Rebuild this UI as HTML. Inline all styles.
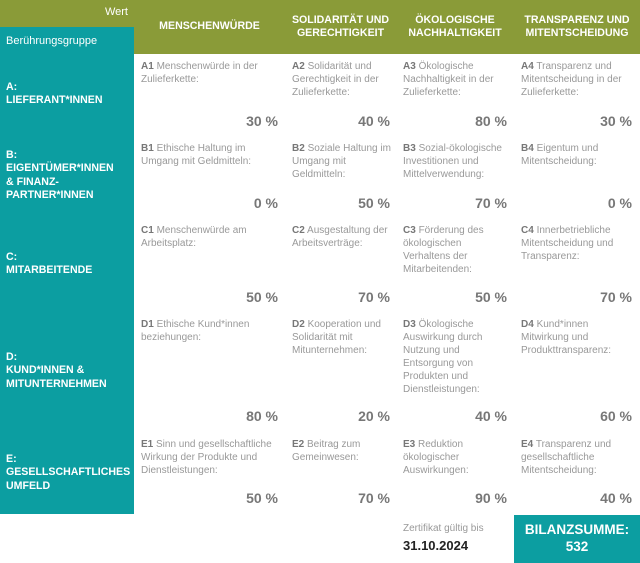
<!DOCTYPE html>
<html><head><meta charset="utf-8"><style>
body{margin:0;width:640px;height:563px;position:relative;background:#fff;font-family:"Liberation Sans",sans-serif;overflow:hidden}
.a{position:absolute}
.hd{background:#8a9b38}
.tl{background:#0c9ea1}
.h{position:absolute;color:#fff;font-weight:bold;font-size:10.6px;line-height:13px;text-align:center}
.l{position:absolute;left:6px;color:#fff;font-weight:bold;font-size:10.6px;line-height:13.3px;white-space:nowrap}
.t{position:absolute;color:#999;font-size:10px;line-height:13px}
.t b{color:#777}
.p{position:absolute;color:#777;font-weight:bold;font-size:14px;line-height:16px;text-align:right;width:80px}
</style></head><body>
<div class="a hd" style="left:0;top:0;width:640px;height:54px"></div>
<div class="a tl" style="left:0;top:27px;width:134px;height:487px"></div>
<div class="a" style="left:0;top:6px;width:128px;text-align:right;color:#fff;font-size:11px">Wert</div>
<div class="a" style="left:6px;top:35px;color:#fff;font-size:11px">Berührungsgruppe</div>
<div class="h" style="left:134px;width:151px;top:20px">MENSCHENWÜRDE</div>
<div class="h" style="left:285px;width:111px;top:14px">SOLIDARITÄT UND GERECHTIGKEIT</div>
<div class="h" style="left:396px;width:118px;top:14px">ÖKOLOGISCHE NACHHALTIGKEIT</div>
<div class="h" style="left:514px;width:126px;top:14px">TRANSPARENZ UND MITENTSCHEIDUNG</div>

<div class="l" style="top:81px">A:<br>LIEFERANT*INNEN</div>
<div class="l" style="top:149px">B:<br>EIGENTÜMER*INNEN<br>&amp; FINANZ-<br>PARTNER*INNEN</div>
<div class="l" style="top:251px">C:<br>MITARBEITENDE</div>
<div class="l" style="top:351px">D:<br>KUND*INNEN &amp;<br>MITUNTERNEHMEN</div>
<div class="l" style="top:453px">E:<br>GESELLSCHAFTLICHES<br>UMFELD</div>

<!-- A -->
<div class="t" style="left:141px;top:60px;width:140px"><b>A1</b> Menschenwürde in der Zulieferkette:</div>
<div class="t" style="left:292px;top:60px;width:100px"><b>A2</b> Solidarität und Gerechtigkeit in der Zulieferkette:</div>
<div class="t" style="left:403px;top:60px;width:108px"><b>A3</b> Ökologische Nachhaltigkeit in der Zulieferkette:</div>
<div class="t" style="left:521px;top:60px;width:115px"><b>A4</b> Transparenz und Mitentscheidung in der Zulieferkette:</div>
<div class="p" style="left:198px;top:113px">30 %</div><div class="p" style="left:310px;top:113px">40 %</div><div class="p" style="left:427px;top:113px">80 %</div><div class="p" style="left:552px;top:113px">30 %</div>
<!-- B -->
<div class="t" style="left:141px;top:142px;width:140px"><b>B1</b> Ethische Haltung im Umgang mit Geldmitteln:</div>
<div class="t" style="left:292px;top:142px;width:100px"><b>B2</b> Soziale Haltung im Umgang mit Geldmitteln:</div>
<div class="t" style="left:403px;top:142px;width:108px"><b>B3</b> Sozial-ökologische Investitionen und Mittelverwendung:</div>
<div class="t" style="left:521px;top:142px;width:115px"><b>B4</b> Eigentum und Mitentscheidung:</div>
<div class="p" style="left:198px;top:195px">0 %</div><div class="p" style="left:310px;top:195px">50 %</div><div class="p" style="left:427px;top:195px">70 %</div><div class="p" style="left:552px;top:195px">0 %</div>
<!-- C -->
<div class="t" style="left:141px;top:224px;width:140px"><b>C1</b> Menschenwürde am Arbeitsplatz:</div>
<div class="t" style="left:292px;top:224px;width:100px"><b>C2</b> Ausgestaltung der Arbeitsverträge:</div>
<div class="t" style="left:403px;top:224px;width:100px"><b>C3</b> Förderung des ökologischen Verhaltens der Mitarbeitenden:</div>
<div class="t" style="left:521px;top:224px;width:115px"><b>C4</b> Innerbetriebliche Mitentscheidung und Transparenz:</div>
<div class="p" style="left:198px;top:289px">50 %</div><div class="p" style="left:310px;top:289px">70 %</div><div class="p" style="left:427px;top:289px">50 %</div><div class="p" style="left:552px;top:289px">70 %</div>
<!-- D -->
<div class="t" style="left:141px;top:318px;width:130px"><b>D1</b> Ethische Kund*innen beziehungen:</div>
<div class="t" style="left:292px;top:318px;width:100px"><b>D2</b> Kooperation und Solidarität mit Mitunternehmen:</div>
<div class="t" style="left:403px;top:318px;width:108px"><b>D3</b> Ökologische Auswirkung durch Nutzung und Entsorgung von Produkten und Dienstleistungen:</div>
<div class="t" style="left:521px;top:318px;width:115px"><b>D4</b> Kund*innen Mitwirkung und Produkttransparenz:</div>
<div class="p" style="left:198px;top:408px">80 %</div><div class="p" style="left:310px;top:408px">20 %</div><div class="p" style="left:427px;top:408px">40 %</div><div class="p" style="left:552px;top:408px">60 %</div>
<!-- E -->
<div class="t" style="left:141px;top:438px;width:142px"><b>E1</b> Sinn und gesellschaftliche Wirkung der Produkte und Dienstleistungen:</div>
<div class="t" style="left:292px;top:438px;width:100px"><b>E2</b> Beitrag zum Gemeinwesen:</div>
<div class="t" style="left:403px;top:438px;width:100px"><b>E3</b> Reduktion ökologischer Auswirkungen:</div>
<div class="t" style="left:521px;top:438px;width:115px"><b>E4</b> Transparenz und gesellschaftliche Mitentscheidung:</div>
<div class="p" style="left:198px;top:490px">50 %</div><div class="p" style="left:310px;top:490px">70 %</div><div class="p" style="left:427px;top:490px">90 %</div><div class="p" style="left:552px;top:490px">40 %</div>

<div class="t" style="left:403px;top:522px">Zertifikat gültig bis</div>
<div class="a" style="left:403px;top:538px;font-size:13px;font-weight:bold;color:#222">31.10.2024</div>
<div class="a tl" style="left:514px;top:515px;width:126px;height:48px;color:#fff;font-weight:bold;font-size:13.5px;line-height:17px;text-align:center;padding-top:6px;box-sizing:border-box">BILANZSUMME:<br>532</div>
</body></html>
